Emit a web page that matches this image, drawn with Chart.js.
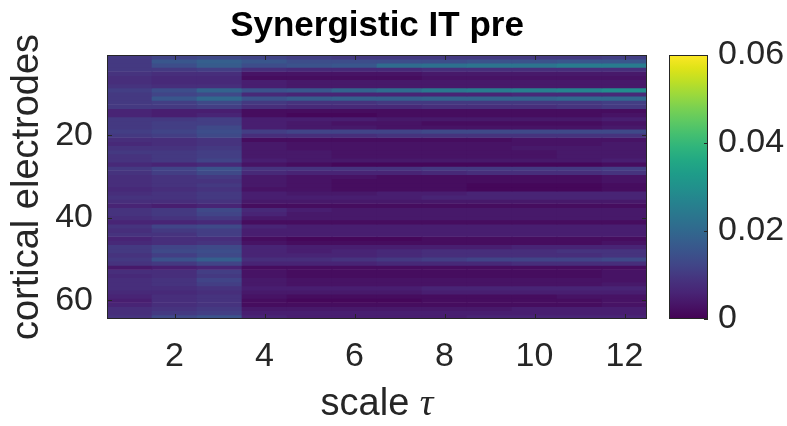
<!DOCTYPE html>
<html>
<head>
<meta charset="utf-8">
<script src="https://cdn.jsdelivr.net/npm/chart.js@4.4.1/dist/chart.umd.min.js"></script>
<style>
  html, body { margin: 0; padding: 0; background: #fff; }
  #wrap { width: 787px; height: 426px; }
</style>
</head>
<body>
<div id="wrap"><canvas id="heat" width="787" height="426"></canvas></div>
<script>
// scale tau (columns) and tick labels
const taus = [1, 2, 3, 4, 5, 6, 7, 8, 9, 10, 11, 12];
const xTicks = [2, 4, 6, 8, 10, 12];
const yTicks = [20, 40, 60];
const cbarTicks = [0, 0.02, 0.04, 0.06];
const cMin = 0, cMax = 0.06;
const titleText = 'Synergistic IT pre';

// synergistic information per electrode (row) and tau (column)
const synergy = [
  [0.010,0.012,0.013,0.012,0.011,0.010,0.010,0.010,0.010,0.010,0.010,0.011],
  [0.010,0.016,0.018,0.016,0.014,0.014,0.014,0.014,0.015,0.015,0.016,0.016],
  [0.010,0.014,0.017,0.014,0.015,0.016,0.021,0.022,0.023,0.023,0.025,0.025],
  [0.010,0.010,0.011,0.008,0.007,0.007,0.007,0.008,0.008,0.008,0.008,0.008],
  [0.009,0.008,0.008,0.003,0.003,0.003,0.003,0.004,0.004,0.004,0.004,0.004],
  [0.008,0.007,0.007,0.002,0.002,0.002,0.002,0.003,0.003,0.003,0.003,0.003],
  [0.008,0.007,0.007,0.005,0.004,0.004,0.004,0.004,0.004,0.004,0.004,0.004],
  [0.009,0.008,0.008,0.005,0.004,0.004,0.004,0.004,0.004,0.004,0.004,0.004],
  [0.011,0.014,0.019,0.015,0.016,0.019,0.021,0.024,0.025,0.026,0.027,0.029],
  [0.010,0.012,0.013,0.007,0.006,0.006,0.006,0.006,0.006,0.007,0.007,0.007],
  [0.010,0.016,0.020,0.015,0.017,0.018,0.018,0.019,0.019,0.019,0.020,0.020],
  [0.010,0.011,0.013,0.010,0.009,0.009,0.010,0.010,0.010,0.010,0.010,0.011],
  [0.010,0.010,0.011,0.008,0.007,0.007,0.007,0.008,0.008,0.008,0.009,0.010],
  [0.006,0.005,0.005,0.002,0.002,0.002,0.002,0.002,0.002,0.002,0.002,0.002],
  [0.006,0.005,0.006,0.002,0.001,0.001,0.002,0.002,0.002,0.002,0.002,0.003],
  [0.010,0.010,0.011,0.005,0.005,0.005,0.004,0.004,0.004,0.004,0.004,0.005],
  [0.010,0.011,0.011,0.005,0.004,0.003,0.003,0.002,0.002,0.002,0.002,0.003],
  [0.010,0.011,0.013,0.005,0.004,0.004,0.003,0.003,0.003,0.003,0.003,0.004],
  [0.011,0.012,0.014,0.011,0.012,0.012,0.012,0.013,0.013,0.013,0.013,0.013],
  [0.010,0.011,0.013,0.008,0.008,0.008,0.009,0.009,0.009,0.009,0.009,0.009],
  [0.008,0.008,0.009,0.002,0.002,0.002,0.002,0.002,0.002,0.003,0.003,0.003],
  [0.007,0.008,0.009,0.004,0.003,0.003,0.003,0.003,0.003,0.003,0.003,0.004],
  [0.009,0.009,0.010,0.004,0.003,0.003,0.003,0.003,0.003,0.004,0.004,0.004],
  [0.010,0.010,0.011,0.004,0.004,0.003,0.003,0.003,0.003,0.003,0.004,0.004],
  [0.009,0.010,0.011,0.004,0.004,0.003,0.003,0.003,0.003,0.003,0.004,0.004],
  [0.009,0.010,0.012,0.005,0.004,0.004,0.004,0.004,0.004,0.004,0.004,0.005],
  [0.007,0.006,0.007,0.003,0.002,0.001,0.001,0.001,0.001,0.001,0.001,0.002],
  [0.010,0.012,0.015,0.009,0.009,0.009,0.009,0.010,0.010,0.010,0.010,0.011],
  [0.009,0.011,0.013,0.007,0.006,0.006,0.006,0.007,0.008,0.008,0.008,0.009],
  [0.008,0.009,0.010,0.004,0.003,0.003,0.002,0.002,0.002,0.002,0.002,0.003],
  [0.008,0.009,0.009,0.004,0.003,0.002,0.002,0.002,0.002,0.002,0.002,0.003],
  [0.008,0.009,0.010,0.004,0.003,0.002,0.002,0.002,0.001,0.001,0.001,0.002],
  [0.007,0.008,0.009,0.003,0.003,0.002,0.002,0.002,0.001,0.001,0.001,0.002],
  [0.008,0.009,0.010,0.005,0.004,0.004,0.005,0.005,0.006,0.006,0.006,0.006],
  [0.009,0.009,0.010,0.005,0.005,0.005,0.005,0.006,0.006,0.006,0.006,0.006],
  [0.008,0.008,0.009,0.004,0.004,0.004,0.004,0.004,0.004,0.004,0.004,0.004],
  [0.006,0.005,0.006,0.002,0.002,0.002,0.002,0.002,0.002,0.002,0.002,0.002],
  [0.009,0.010,0.013,0.007,0.005,0.004,0.004,0.004,0.004,0.004,0.004,0.004],
  [0.009,0.010,0.012,0.006,0.004,0.004,0.004,0.004,0.004,0.004,0.004,0.004],
  [0.008,0.009,0.010,0.004,0.004,0.004,0.004,0.004,0.004,0.004,0.004,0.004],
  [0.006,0.006,0.007,0.002,0.002,0.002,0.002,0.002,0.002,0.002,0.002,0.002],
  [0.009,0.012,0.013,0.006,0.005,0.005,0.005,0.005,0.005,0.005,0.005,0.005],
  [0.008,0.010,0.011,0.005,0.005,0.005,0.005,0.005,0.005,0.005,0.005,0.005],
  [0.009,0.009,0.011,0.005,0.005,0.005,0.005,0.005,0.005,0.005,0.005,0.005],
  [0.006,0.008,0.008,0.002,0.001,0.001,0.001,0.002,0.002,0.002,0.002,0.002],
  [0.007,0.008,0.009,0.003,0.002,0.002,0.002,0.002,0.002,0.002,0.002,0.003],
  [0.010,0.012,0.013,0.006,0.005,0.005,0.005,0.005,0.005,0.006,0.006,0.006],
  [0.010,0.013,0.014,0.006,0.005,0.006,0.007,0.008,0.008,0.008,0.009,0.009],
  [0.009,0.011,0.013,0.006,0.006,0.006,0.007,0.008,0.008,0.008,0.008,0.009],
  [0.010,0.015,0.018,0.008,0.008,0.009,0.010,0.011,0.012,0.012,0.012,0.013],
  [0.009,0.010,0.012,0.006,0.006,0.006,0.007,0.007,0.007,0.008,0.008,0.008],
  [0.004,0.005,0.006,0.002,0.002,0.002,0.002,0.002,0.002,0.002,0.002,0.002],
  [0.008,0.008,0.011,0.003,0.002,0.002,0.002,0.002,0.002,0.002,0.002,0.003],
  [0.007,0.008,0.010,0.003,0.002,0.002,0.002,0.002,0.002,0.002,0.002,0.003],
  [0.008,0.009,0.012,0.004,0.003,0.003,0.003,0.003,0.003,0.003,0.003,0.003],
  [0.008,0.009,0.011,0.004,0.003,0.003,0.003,0.003,0.003,0.003,0.003,0.004],
  [0.008,0.008,0.009,0.005,0.005,0.005,0.005,0.006,0.006,0.006,0.006,0.006],
  [0.007,0.007,0.008,0.004,0.004,0.004,0.004,0.005,0.005,0.005,0.005,0.005],
  [0.006,0.008,0.009,0.003,0.002,0.002,0.002,0.002,0.002,0.002,0.003,0.003],
  [0.005,0.008,0.009,0.002,0.001,0.001,0.001,0.002,0.002,0.002,0.002,0.003],
  [0.006,0.008,0.009,0.002,0.002,0.002,0.002,0.002,0.002,0.002,0.002,0.003],
  [0.008,0.009,0.010,0.004,0.004,0.004,0.004,0.004,0.004,0.005,0.005,0.005],
  [0.008,0.010,0.011,0.005,0.005,0.005,0.005,0.005,0.005,0.005,0.005,0.005],
  [0.009,0.013,0.015,0.006,0.005,0.005,0.005,0.005,0.006,0.006,0.006,0.006]
];

// viridis colormap stops
const viridisStops = [
  [0.00, '#440154'], [0.05, '#471365'], [0.10, '#482475'], [0.15, '#46337e'],
  [0.20, '#414487'], [0.25, '#3b528b'], [0.30, '#355f8d'], [0.35, '#2f6c8e'],
  [0.40, '#2a788e'], [0.45, '#25848e'], [0.50, '#21918c'], [0.55, '#1e9c89'],
  [0.60, '#22a884'], [0.65, '#2fb47c'], [0.70, '#44bf70'], [0.75, '#5ec962'],
  [0.80, '#7ad151'], [0.85, '#9bd93c'], [0.90, '#bddf26'], [0.95, '#dfe318'],
  [1.00, '#fde725']
];

function hexRgb(h) {
  return [parseInt(h.slice(1, 3), 16), parseInt(h.slice(3, 5), 16), parseInt(h.slice(5, 7), 16)];
}

function viridis(v) {
  let t = (v - cMin) / (cMax - cMin);
  t = Math.max(0, Math.min(1, t));
  for (let i = 1; i < viridisStops.length; i++) {
    if (t <= viridisStops[i][0]) {
      const [t0, c0] = viridisStops[i - 1];
      const [t1, c1] = viridisStops[i];
      const f = (t - t0) / (t1 - t0);
      const a = hexRgb(c0), b = hexRgb(c1);
      const rgb = a.map((x, k) => Math.round(x + (b[k] - x) * f));
      return 'rgb(' + rgb.join(',') + ')';
    }
  }
  return viridisStops[viridisStops.length - 1][1];
}

const FONT = '"Liberation Sans", Arial, sans-serif';
const AXIS = '#262626';

// one floating-bar dataset per electrode row
const datasets = synergy.map((row, i) => {
  const e = i + 1;
  return {
    data: taus.map((t) => ({ x: t, y: [e - 0.5, e + 0.5] })),
    backgroundColor: row.map(viridis),
    borderWidth: 0,
    borderSkipped: false,
    grouped: false,
    barPercentage: 1,
    categoryPercentage: 1
  };
});

// fixed axis box sizes, no extra label padding pushed into the layout
function fixBox(size) {
  return (s) => {
    if (s.isHorizontal()) s.height = size; else s.width = size;
    s.paddingTop = 0; s.paddingBottom = 0; s.paddingLeft = 0; s.paddingRight = 0;
  };
}

const framePlugin = {
  id: 'frame',
  afterDraw(chart) {
    const ctx = chart.ctx;
    const a = chart.chartArea;
    const xs = chart.scales.x, ys = chart.scales.y, cb = chart.scales.cbar;
    const cx = (a.left + a.right) / 2;
    ctx.save();

    // axes box + inward ticks
    ctx.strokeStyle = AXIS;
    ctx.lineWidth = 1;
    ctx.strokeRect(a.left + 0.5, a.top + 0.5, a.right - a.left - 1, a.bottom - a.top - 1);
    ctx.beginPath();
    xTicks.forEach((v) => {
      const px = Math.round(xs.getPixelForValue(v)) + 0.5;
      ctx.moveTo(px, a.bottom); ctx.lineTo(px, a.bottom - 5);
      ctx.moveTo(px, a.top); ctx.lineTo(px, a.top + 5);
    });
    yTicks.forEach((v) => {
      const py = Math.round(ys.getPixelForValue(v)) + 0.5;
      ctx.moveTo(a.left, py); ctx.lineTo(a.left + 5, py);
      ctx.moveTo(a.right, py); ctx.lineTo(a.right - 5, py);
    });
    ctx.stroke();

    // colorbar
    const cbLeft = 669, cbRight = 708;
    const y0 = cb.getPixelForValue(cMin), y1 = cb.getPixelForValue(cMax);
    const g = ctx.createLinearGradient(0, y0, 0, y1);
    viridisStops.forEach(([t, c]) => g.addColorStop(t, c));
    ctx.fillStyle = g;
    ctx.fillRect(cbLeft, y1, cbRight - cbLeft, y0 - y1);
    ctx.strokeRect(cbLeft + 0.5, y1 + 0.5, cbRight - cbLeft - 1, y0 - y1 - 1);
    ctx.beginPath();
    cbarTicks.forEach((v) => {
      const py = Math.round(cb.getPixelForValue(v)) + 0.5;
      ctx.moveTo(cbRight, py); ctx.lineTo(cbRight - 4, py);
    });
    ctx.stroke();

    // title
    ctx.fillStyle = '#000';
    ctx.textAlign = 'center';
    ctx.textBaseline = 'middle';
    ctx.font = 'bold 35px ' + FONT;
    ctx.fillText(titleText, cx, 26);

    // x label "scale τ"
    const cy = 405;
    ctx.fillStyle = AXIS;
    ctx.textAlign = 'left';
    ctx.font = '38px ' + FONT;
    const w1 = ctx.measureText('scale ').width;
    ctx.font = 'italic 38px "Liberation Serif", serif';
    const w2 = ctx.measureText('τ').width;
    const sx = cx - (w1 + w2) / 2;
    ctx.font = '38px ' + FONT;
    ctx.fillText('scale ', sx, cy);
    ctx.font = 'italic 38px "Liberation Serif", serif';
    ctx.fillText('τ', sx + w1, cy);
    ctx.restore();
  }
};

new Chart(document.getElementById('heat'), {
  type: 'bar',
  data: { datasets: datasets },
  options: {
    responsive: false,
    animation: false,
    events: [],
    layout: { padding: { top: 55, left: 0, right: 0, bottom: 0 } },
    plugins: {
      legend: { display: false },
      tooltip: { enabled: false },
      title: { display: false }
    },
    scales: {
      x: {
        type: 'linear',
        position: 'bottom',
        min: 0.5,
        max: 12.5,
        offset: false,
        grid: { display: false, drawTicks: false },
        border: { display: false },
        afterBuildTicks: (s) => { s.ticks = xTicks.map((v) => ({ value: v })); },
        afterFit: fixBox(107),
        ticks: { color: AXIS, font: { family: FONT, size: 34 }, padding: 17, maxRotation: 0 }
      },
      y: {
        type: 'linear',
        position: 'left',
        reverse: true,
        min: 0.5,
        max: 64.5,
        offset: false,
        grid: { display: false, drawTicks: false },
        border: { display: false },
        afterBuildTicks: (s) => { s.ticks = yTicks.map((v) => ({ value: v })); },
        afterFit: fixBox(107),
        ticks: { color: AXIS, font: { family: FONT, size: 34 }, padding: 14 },
        title: {
          display: true,
          text: 'cortical electrodes',
          color: AXIS,
          font: { family: FONT, size: 38 },
          padding: { top: 5, bottom: 0 }
        }
      },
      cbar: {
        type: 'linear',
        position: 'right',
        min: cMin,
        max: cMax,
        grid: { display: false, drawTicks: false },
        border: { display: false },
        afterBuildTicks: (s) => { s.ticks = cbarTicks.map((v) => ({ value: v })); },
        afterFit: fixBox(140),
        ticks: {
          color: AXIS,
          font: { family: FONT, size: 34 },
          padding: 71,
          callback: (v) => (v === 0 ? '0' : v.toFixed(2))
        }
      }
    }
  },
  plugins: [framePlugin]
});
</script>
</body>
</html>
